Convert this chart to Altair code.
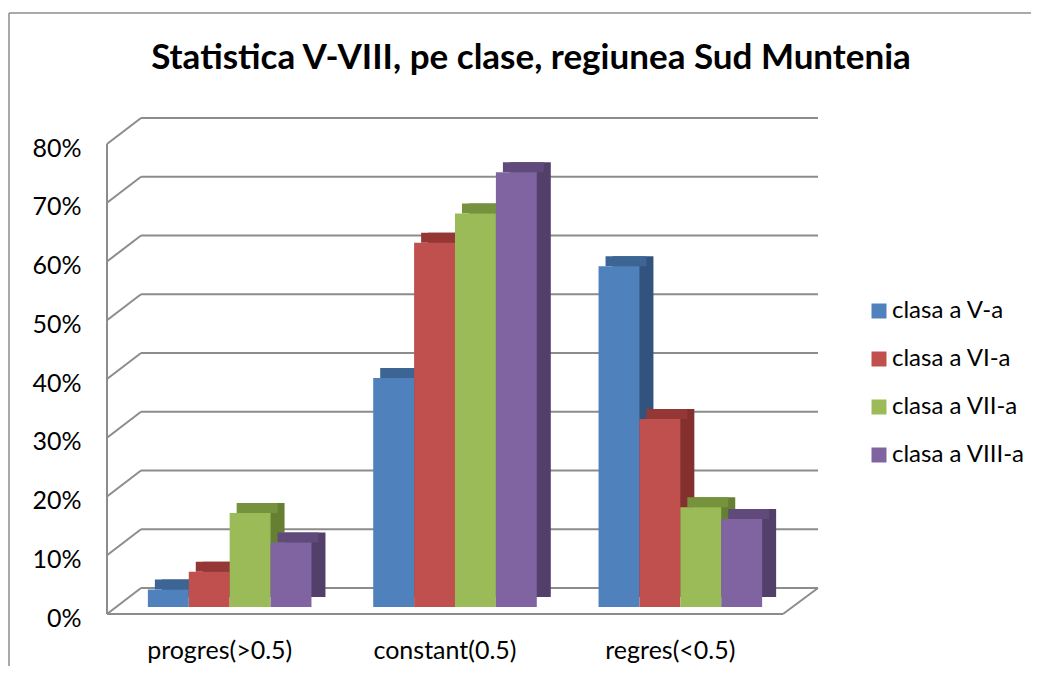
import altair as alt
import pandas as pd

categories = ["progres(>0.5)", "constant(0.5)", "regres(<0.5)"]
series = ["clasa a V-a", "clasa a VI-a", "clasa a VII-a", "clasa a VIII-a"]
v_V = [0.03, 0.39, 0.58]
v_VI = [0.06, 0.62, 0.32]
v_VII = [0.16, 0.67, 0.17]
v_VIII = [0.11, 0.74, 0.15]
tick_values = [0.0, 0.1, 0.2, 0.3, 0.4, 0.5, 0.6, 0.7, 0.8]

front_colors = ["#4F81BD", "#C0504D", "#9BBB59", "#8064A2"]
top_colors = ["#3D6594", "#953735", "#76923C", "#604A7B"]
side_colors = ["#33537F", "#83302F", "#657F33", "#52406A"]

rows = []
for s, vals in zip(series, [v_V, v_VI, v_VII, v_VIII]):
    for c, v in zip(categories, vals):
        rows.append({"cat": c, "series": s, "value": v})
df = pd.DataFrame(rows)
ticks_df = pd.DataFrame({"tick": tick_values})
one = pd.DataFrame({"k": [0]})

W, H = 676, 470
GRID = "#8C8C8C"
FONT = "Lato"
P_IN, P_OUT = 0.274, 0.137

step = W / (len(categories) - P_IN + 2 * P_OUT)
band = step * (1 - P_IN)

x_scale = alt.Scale(domain=categories, paddingInner=P_IN, paddingOuter=P_OUT)
y_scale = alt.Scale(domain=[0, 0.8], nice=False, zero=True)


def xo_scale(shift):
    return alt.Scale(domain=series, paddingInner=0, paddingOuter=0, range=[shift, shift + band])


# 3D walls / grid
back_grid = alt.Chart(ticks_df).mark_rule(
    color=GRID, strokeWidth=2, xOffset=34, x2Offset=35, yOffset=-26
).encode(
    y=alt.Y("tick:Q", scale=y_scale,
            axis=alt.Axis(format="%", values=tick_values, domain=False, ticks=False,
                          tickSize=0, grid=False, labelFontSize=25, labelColor="#000000",
                          labelFont=FONT, labelPadding=26, labelOffset=4, title=None)),
    x=alt.value(0), x2=alt.value(W),
)
wall_slant = alt.Chart(ticks_df).mark_rule(
    color=GRID, strokeWidth=2, x2Offset=34, y2Offset=-26
).encode(
    y="tick:Q", y2="tick:Q", x=alt.value(0), x2=alt.value(0)
)
wall_front = alt.Chart(one).mark_rule(color=GRID, strokeWidth=2).encode(
    x=alt.value(0), y=alt.datum(0), y2=alt.datum(0.8)
)
floor_front = alt.Chart(one).mark_rule(color=GRID, strokeWidth=2).encode(
    y=alt.datum(0), x=alt.value(0), x2=alt.value(W)
)
floor_side = alt.Chart(one).mark_rule(color=GRID, strokeWidth=2, x2Offset=35, y2Offset=-26).encode(
    y=alt.datum(0), y2=alt.datum(0), x=alt.value(W), x2=alt.value(W)
)

# border frame
border_top = alt.Chart(one).mark_rule(color="#8C8C8C", strokeWidth=1.5).encode(
    x=alt.value(-98), x2=alt.value(924), y=alt.value(-131)
)
border_left = alt.Chart(one).mark_rule(color="#8C8C8C", strokeWidth=1.5).encode(
    x=alt.value(-98), y=alt.value(-131), y2=alt.value(522)
)

base = alt.Chart(df)
side = base.mark_bar(yOffset=-17, y2Offset=-17).encode(
    x=alt.X("cat:N", scale=x_scale, sort=categories),
    xOffset=alt.XOffset("series:N", scale=xo_scale(24), sort=series),
    y=alt.Y("value:Q", scale=y_scale),
    y2=alt.datum(0),
    color=alt.Color("series:N", scale=alt.Scale(domain=series, range=side_colors), legend=None),
)
top = base.mark_bar(yOffset=-17, y2Offset=-7).encode(
    x=alt.X("cat:N", scale=x_scale, sort=categories),
    xOffset=alt.XOffset("series:N", scale=xo_scale(17), sort=series),
    y=alt.Y("value:Q", scale=y_scale),
    y2=alt.Y2("value:Q"),
    color=alt.Color("series:N", scale=alt.Scale(domain=series, range=top_colors), legend=None),
)
front = base.mark_bar(yOffset=-7, y2Offset=-7).encode(
    x=alt.X("cat:N", scale=x_scale, sort=categories,
            axis=alt.Axis(title=None, labelAngle=0, domain=False, ticks=False, tickSize=0,
                          bandPosition=0.5, labelAlign="center",
                          labelFontSize=25, labelColor="#000000", labelFont=FONT,
                          labelPadding=36)),
    xOffset=alt.XOffset("series:N", scale=xo_scale(10), sort=series),
    y=alt.Y("value:Q", scale=y_scale),
    y2=alt.datum(0),
    color=alt.Color("series:N", scale=alt.Scale(domain=series, range=front_colors),
                    legend=alt.Legend(title=None, orient="none", legendX=760, legendY=155,
                                      symbolType="square", symbolSize=225, symbolStrokeWidth=0,
                                      labelFontSize=24, labelFont=FONT, labelColor="#000000",
                                      labelOffset=1, rowPadding=24, padding=0)),
)

chart = alt.layer(
    border_top, border_left,
    back_grid, wall_slant, wall_front, floor_front, floor_side,
    side, top, front,
).resolve_scale(color="independent", xOffset="independent").properties(
    width=W, height=H,
    padding={"left": 0, "top": 4, "right": 0, "bottom": 0},
    background="white",
    title=alt.TitleParams(
        text="Statistica V-VIII, pe clase, regiunea Sud Muntenia",
        font=FONT, fontSize=35, fontWeight="bold", color="#000000",
        anchor="middle", dx=86, offset=-64,
    ),
).configure(font=FONT).configure_view(stroke="transparent")

chart.save("out.html", embed_options={"renderer": "svg", "actions": False})
